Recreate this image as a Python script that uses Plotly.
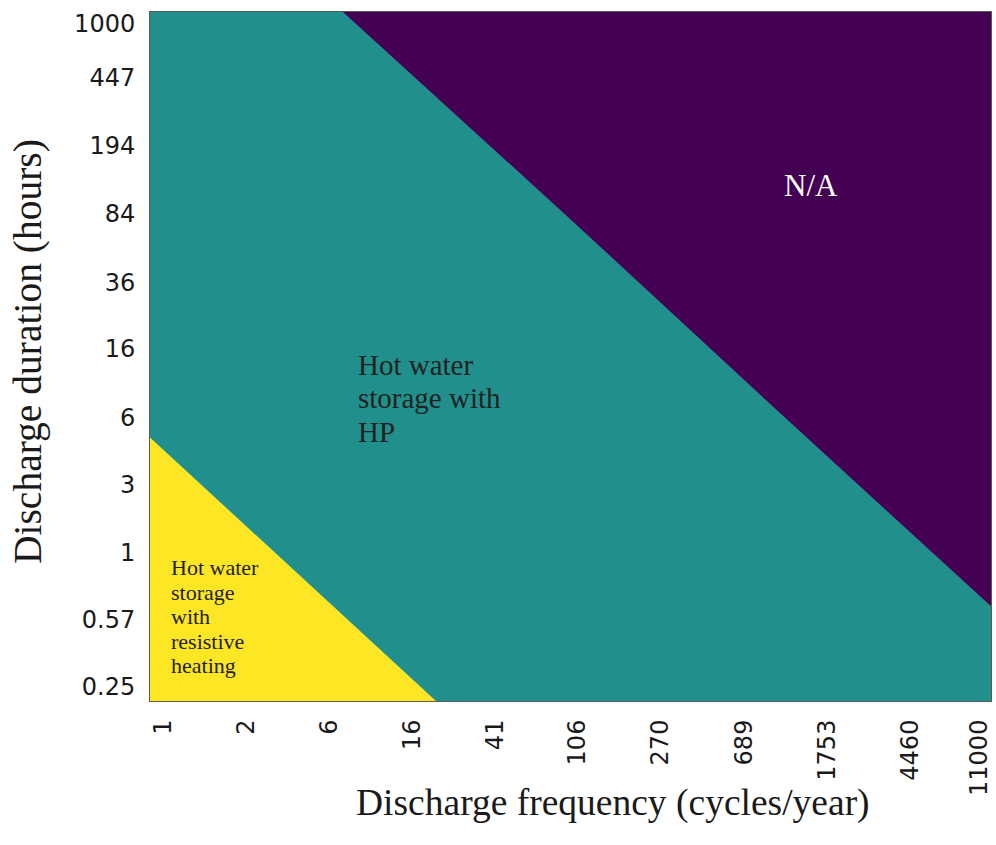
import numpy as np
import plotly.graph_objects as go

# ---- data ----
x_tick_text = ["1", "2", "6", "16", "41", "106", "270", "689", "1753", "4460", "11000"]
# the last label sits slightly inside the right edge in the reference
x_tick_vals = [1, 2.545, 6.48, 16.5, 41.9, 106, 270, 689, 1753, 4460, 9700]
y_tick_text = ["0.25", "0.57", "1", "3", "6", "16", "36", "84", "194", "447", "1000"]
# the top label sits slightly below the top edge in the reference
y_tick_vals = [0.25, 0.57, 1.31, 3.0, 6.9, 16, 36, 84, 194, 447, 870]

# boundary between "resistive heating" (yellow) and "HP" (teal) regions
rh_boundary_freq = [0.86, 4.6, 21.6]
rh_boundary_dur = [5.4, 1.0, 0.21]
# boundary between "HP" (teal) and "N/A" (purple) regions
na_boundary_freq = [7.6, 100, 1000, 11000]
na_boundary_dur = [1000, 77, 7.5, 0.68]

x_range_vals = [0.865, 11100]
y_range_vals = [0.2104, 1004]
outer_lo_freq, outer_hi_freq = 0.5, 20000
outer_lo_dur, outer_hi_dur = 0.1, 2000

YELLOW = "#fde725"
TEAL = "#21908d"
PURPLE = "#440154"

fig = go.Figure()

# yellow region (bottom-left)
fig.add_trace(go.Scatter(
    x=rh_boundary_freq + [rh_boundary_freq[-1], outer_lo_freq, outer_lo_freq],
    y=rh_boundary_dur + [outer_lo_dur, outer_lo_dur, rh_boundary_dur[0]],
    fill="toself", fillcolor=YELLOW, mode="lines", line=dict(width=0),
    hoverinfo="skip", showlegend=False))

# purple region (top-right)
fig.add_trace(go.Scatter(
    x=na_boundary_freq + [outer_hi_freq, outer_hi_freq, na_boundary_freq[0]],
    y=na_boundary_dur + [na_boundary_dur[-1], outer_hi_dur, outer_hi_dur],
    fill="toself", fillcolor=PURPLE, mode="lines", line=dict(width=0),
    hoverinfo="skip", showlegend=False))

tick_font = dict(family="DejaVu Sans", size=24, color="#1a1a1a")
serif = "Liberation Serif"

fig.update_xaxes(
    type="log", range=[np.log10(x_range_vals[0]), np.log10(x_range_vals[1])],
    tickmode="array", tickvals=x_tick_vals, ticktext=x_tick_text,
    tickangle=-90, tickfont=tick_font, ticks="", ticklabelstandoff=8,
    ticklabeloverflow="allow",
    showgrid=False, zeroline=False, showline=True, linecolor="#5a5a50",
    linewidth=1, mirror=True)
fig.update_yaxes(
    type="log", range=[np.log10(y_range_vals[0]), np.log10(y_range_vals[1])],
    tickmode="array", tickvals=y_tick_vals, ticktext=y_tick_text,
    tickfont=tick_font, ticks="", ticklabelstandoff=9,
    ticklabeloverflow="allow",
    showgrid=False, zeroline=False, showline=True, linecolor="#5a5a50",
    linewidth=1, mirror=True)

ann = []
# axis titles
ann.append(dict(text="Discharge frequency (cycles/year)", xref="paper", yref="paper",
                x=0.55, y=0, yshift=-102, xanchor="center", yanchor="middle",
                showarrow=False, font=dict(family=serif, size=37.5, color="#1a1a1a")))
ann.append(dict(text="Discharge duration (hours)", xref="paper", yref="paper",
                x=0, xshift=-122, y=0.5065, xanchor="center", yanchor="middle",
                textangle=-90, showarrow=False,
                font=dict(family=serif, size=39.5, color="#1a1a1a")))
# region labels
ann.append(dict(text="N/A", xref="paper", yref="paper", x=0.7865, y=0.7475,
                xanchor="center", yanchor="middle", showarrow=False,
                font=dict(family=serif, size=31, color="white")))
hp_lines = ["Hot water", "storage with", "HP"]
hp_y = [365, 398, 432]
for t, py in zip(hp_lines, hp_y):
    ann.append(dict(text=t, xref="paper", yref="paper", x=(356 - 150) / 843,
                    y=(701 - py) / 689, xanchor="left", yanchor="middle",
                    showarrow=False, font=dict(family=serif, size=29, color="#222222")))
rh_lines = ["Hot water", "storage", "with", "resistive", "heating"]
rh_y = [567, 592, 616, 641, 665]
for t, py in zip(rh_lines, rh_y):
    ann.append(dict(text=t, xref="paper", yref="paper", x=(169 - 150) / 843,
                    y=(701 - py) / 689, xanchor="left", yanchor="middle",
                    showarrow=False, font=dict(family=serif, size=22, color="#222222")))

fig.update_layout(
    width=996, height=845, autosize=False,
    margin=dict(l=150, r=3, t=12, b=144, pad=0),
    paper_bgcolor="white", plot_bgcolor=TEAL,
    annotations=ann, showlegend=False)

fig.write_html("out.html")
